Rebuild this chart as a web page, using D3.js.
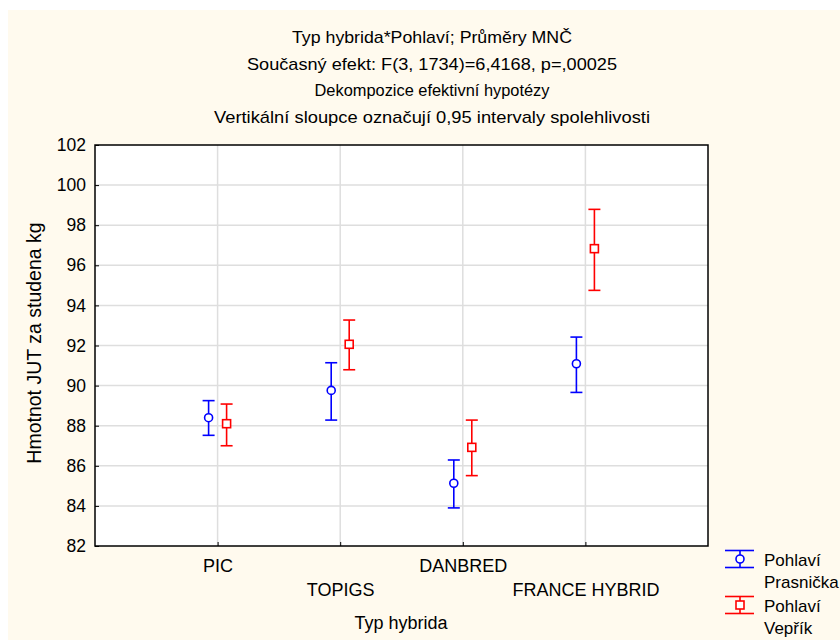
<!DOCTYPE html>
<html>
<head>
<meta charset="utf-8">
<script src="https://cdn.jsdelivr.net/npm/d3@7"></script>
<style>
  body { margin: 0; background: white; }
  text { font-family: "Liberation Sans", Arial, sans-serif; fill: #000; }
</style>
</head>
<body>
<script>
// data
const categories = ["PIC", "TOPIGS", "DANBRED", "FRANCE HYBRID"];
const prasMean = [88.40, 89.76, 85.13, 91.09];
const prasLow  = [87.52, 88.28, 83.90, 89.66];
const prasHigh = [89.25, 91.14, 86.29, 92.42];
const veprMean = [88.10, 92.06, 86.92, 96.83];
const veprLow  = [87.00, 90.79, 85.51, 94.75];
const veprHigh = [89.08, 93.27, 88.28, 98.79];
const yTicks = [82, 84, 86, 88, 90, 92, 94, 96, 98, 100, 102];
const titleLines = [
  "Typ hybrida*Pohlaví; Průměry MNČ",
  "Současný efekt: F(3, 1734)=6,4168, p=,00025",
  "Dekompozice efektivní hypotézy",
  "Vertikální sloupce označují 0,95 intervaly spolehlivosti"
];
// rendered widths of the title lines (layout only)
const titleWidths = [280, 370, 235, 436];

const width = 840, height = 640;
const plotL = 95, plotR = 708, plotT = 145, plotB = 546;
const font = "Liberation Sans, Arial, sans-serif";

const svg = d3.select("body").append("svg")
  .attr("width", width)
  .attr("height", height);

svg.append("rect").attr("width", width).attr("height", height).attr("fill", "#fff");
svg.append("rect").attr("x", 8).attr("y", 10).attr("width", width).attr("height", height).attr("fill", "#fffaee");

const x = d3.scalePoint().domain(categories).range([plotL, plotR]).padding(1);
const y = d3.scaleLinear().domain([82, 102]).range([plotB, plotT]);

// plot area
svg.append("rect")
  .attr("x", plotL).attr("y", plotT)
  .attr("width", plotR - plotL).attr("height", plotB - plotT)
  .attr("fill", "#fff");

// grid
svg.append("g").selectAll("line").data(yTicks.slice(1, -1)).join("line")
  .attr("x1", plotL).attr("x2", plotR)
  .attr("y1", d => y(d)).attr("y2", d => y(d))
  .attr("stroke", "#dedede").attr("stroke-width", 1.5);
svg.append("g").selectAll("line").data(categories).join("line")
  .attr("x1", d => x(d)).attr("x2", d => x(d))
  .attr("y1", plotT).attr("y2", plotB)
  .attr("stroke", "#dedede").attr("stroke-width", 1.5);

// axes
const yAxis = svg.append("g")
  .attr("transform", `translate(${plotL},0)`)
  .call(d3.axisLeft(y).tickValues(yTicks).tickSize(-4).tickPadding(9));
yAxis.select(".domain").remove();
yAxis.selectAll("line").attr("stroke", "#000");
yAxis.selectAll("text").attr("font-size", 17.5).attr("font-family", font);

const xAxis = svg.append("g")
  .attr("transform", `translate(0,${plotB})`)
  .call(d3.axisBottom(x).tickSize(-4).tickPadding(0));
xAxis.select(".domain").remove();
xAxis.selectAll("line").attr("stroke", "#000");
xAxis.selectAll("text")
  .attr("font-size", 18)
  .attr("font-family", font)
  .attr("dy", null)
  .attr("y", (d, i) => i % 2 === 0 ? 26 : 50);

svg.append("rect")
  .attr("x", plotL).attr("y", plotT)
  .attr("width", plotR - plotL).attr("height", plotB - plotT)
  .attr("fill", "none").attr("stroke", "#000").attr("stroke-width", 1.5);

// error bars
function series(mean, low, high, color, dx, shape) {
  const g = svg.append("g").attr("stroke", color).attr("stroke-width", 1.6).attr("fill", "none");
  const data = categories.map((c, i) => ({c, m: mean[i], lo: low[i], hi: high[i]}));
  const pts = g.selectAll("g").data(data).join("g")
    .attr("transform", d => `translate(${x(d.c) + dx},0)`);
  pts.append("line").attr("y1", d => y(d.lo)).attr("y2", d => y(d.hi));
  pts.append("line").attr("x1", -6).attr("x2", 6).attr("y1", d => y(d.hi)).attr("y2", d => y(d.hi));
  pts.append("line").attr("x1", -6).attr("x2", 6).attr("y1", d => y(d.lo)).attr("y2", d => y(d.lo));
  if (shape === "circle") {
    pts.append("circle").attr("cy", d => y(d.m)).attr("r", 4).attr("fill", "#fff");
  } else {
    pts.append("rect").attr("x", -4).attr("y", d => y(d.m) - 4).attr("width", 8).attr("height", 8).attr("fill", "#fff");
  }
}
series(prasMean, prasLow, prasHigh, "#0000ff", -9, "circle");
series(veprMean, veprLow, veprHigh, "#ff0000", 9, "square");

// titles
svg.append("g").selectAll("text").data(titleLines).join("text")
  .attr("x", 432).attr("y", (d, i) => 43 + i * 26.5)
  .attr("text-anchor", "middle")
  .attr("font-size", 17)
  .attr("textLength", (d, i) => titleWidths[i])
  .attr("lengthAdjust", "spacingAndGlyphs")
  .text(d => d);

svg.append("text")
  .attr("transform", "translate(41,343) rotate(-90)")
  .attr("text-anchor", "middle")
  .attr("font-size", 19.5)
  .text("Hmotnot JUT za studena kg");

svg.append("text")
  .attr("x", 401).attr("y", 629)
  .attr("text-anchor", "middle")
  .attr("font-size", 18)
  .text("Typ hybrida");

// legend
const legendItems = [
  {color: "#0000ff", shape: "circle", lines: ["Pohlaví", "Prasnička"], y: 559},
  {color: "#ff0000", shape: "square", lines: ["Pohlaví", "Vepřík"], y: 605}
];
const lg = svg.append("g").selectAll("g").data(legendItems).join("g")
  .attr("transform", d => `translate(740,${d.y})`);
const sym = lg.append("g").attr("stroke", d => d.color).attr("stroke-width", 1.6).attr("fill", "none");
sym.append("line").attr("x1", -15).attr("x2", 14).attr("y1", -8.5).attr("y2", -8.5);
sym.append("line").attr("x1", -15).attr("x2", 14).attr("y1", 8.5).attr("y2", 8.5);
sym.append("line").attr("y1", -8.5).attr("y2", 8.5);
sym.filter(d => d.shape === "circle").append("circle").attr("r", 4).attr("fill", "#fff");
sym.filter(d => d.shape === "square").append("rect").attr("x", -4).attr("y", -4).attr("width", 8).attr("height", 8).attr("fill", "#fff");
lg.each(function(d) {
  d3.select(this).selectAll("text").data(d.lines).join("text")
    .attr("x", 24).attr("y", (t, i) => 7 + i * 22)
    .attr("font-size", 17)
    .text(t => t);
});
</script>
</body>
</html>
